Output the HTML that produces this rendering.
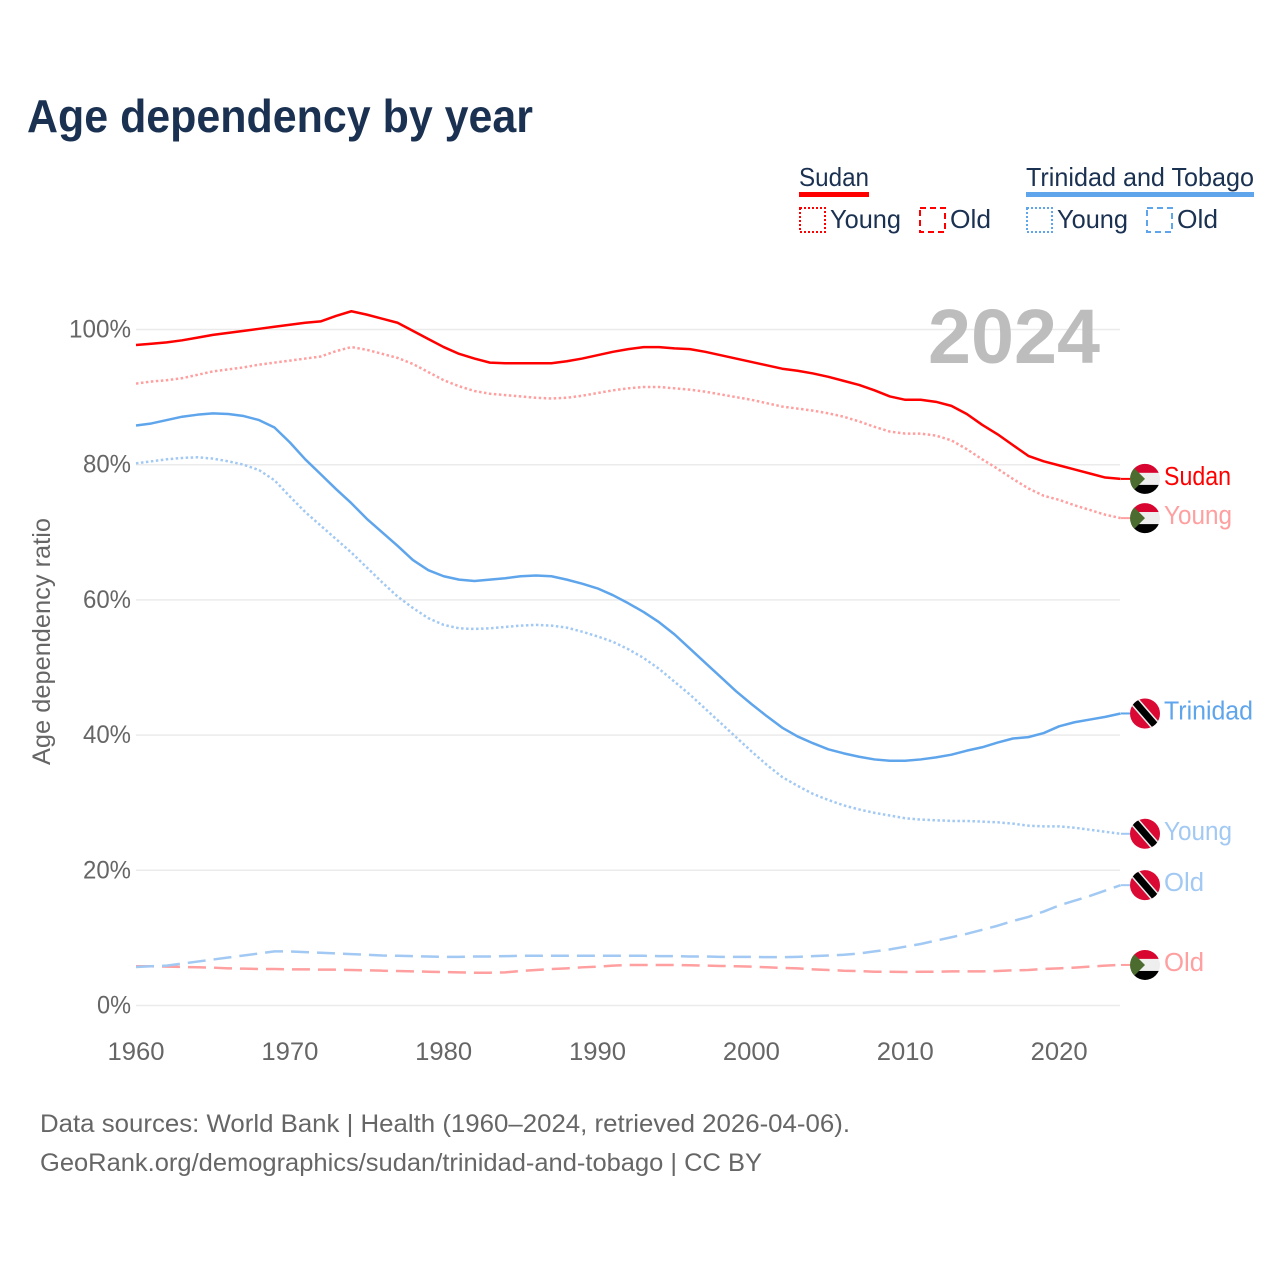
<!DOCTYPE html>
<html lang="en">
<head>
<meta charset="utf-8">
<title>Age dependency by year</title>
<style>
html,body{margin:0;padding:0;background:#fff;}
svg{display:block;font-family:"Liberation Sans",sans-serif;}
.legend-text{font-size:26px;fill:#1a3152;}
.tick{font-size:25px;fill:#666;}
.foot{font-size:25px;fill:#666;}
</style>
</head>
<body>
<svg id="chart" width="1280" height="1280" viewBox="0 0 1280 1280" xmlns="http://www.w3.org/2000/svg">
  <rect width="1280" height="1280" fill="#fff"/>
  <text x="27" y="132" font-size="46.5" font-weight="700" fill="#1a3152" textLength="506" lengthAdjust="spacingAndGlyphs">Age dependency by year</text>

  <g>
    <text class="legend-text" x="799" y="186" textLength="70" lengthAdjust="spacingAndGlyphs">Sudan</text>
    <rect x="799" y="192" width="70" height="5" fill="#ff0000"/>
    <rect x="800" y="208" width="25" height="24" fill="none" stroke="#ff0000" stroke-width="2" stroke-dasharray="2 2"/>
    <text class="legend-text" x="830" y="228" textLength="71" lengthAdjust="spacingAndGlyphs">Young</text>
    <rect x="920" y="208" width="25" height="24" fill="none" stroke="#ff0000" stroke-width="2" stroke-dasharray="6 4"/>
    <text class="legend-text" x="950" y="228" textLength="41" lengthAdjust="spacingAndGlyphs">Old</text>

    <text class="legend-text" x="1026" y="186" textLength="228" lengthAdjust="spacingAndGlyphs">Trinidad and Tobago</text>
    <rect x="1026" y="192" width="228" height="5" fill="#5fa5ec"/>
    <rect x="1027" y="208" width="25" height="24" fill="none" stroke="#5fa5ec" stroke-width="2" stroke-dasharray="2 2"/>
    <text class="legend-text" x="1057" y="228" textLength="71" lengthAdjust="spacingAndGlyphs">Young</text>
    <rect x="1147" y="208" width="25" height="24" fill="none" stroke="#5fa5ec" stroke-width="2" stroke-dasharray="6 4"/>
    <text class="legend-text" x="1177" y="228" textLength="41" lengthAdjust="spacingAndGlyphs">Old</text>
  </g>

  <text transform="translate(50 641.5) rotate(-90)" text-anchor="middle" font-size="25" fill="#666" textLength="247" lengthAdjust="spacingAndGlyphs">Age dependency ratio</text>

  <g id="grid"></g>
  <g id="y-ticks"></g>
  <g id="x-ticks"></g>

  <text x="928" y="363" font-size="77" font-weight="700" fill="#bdbdbd" textLength="172" lengthAdjust="spacingAndGlyphs">2024</text>

  <g id="series"></g>
  <g id="end-labels"></g>

  <g>
    <text class="foot" x="40" y="1132" textLength="810" lengthAdjust="spacingAndGlyphs">Data sources: World Bank | Health (1960–2024, retrieved 2026-04-06).</text>
    <text class="foot" x="40" y="1171" textLength="722" lengthAdjust="spacingAndGlyphs">GeoRank.org/demographics/sudan/trinidad-and-tobago | CC BY</text>
  </g>
</svg>

<script>
const years = [1960,1961,1962,1963,1964,1965,1966,1967,1968,1969,1970,1971,1972,1973,1974,1975,1976,1977,1978,1979,1980,1981,1982,1983,1984,1985,1986,1987,1988,1989,1990,1991,1992,1993,1994,1995,1996,1997,1998,1999,2000,2001,2002,2003,2004,2005,2006,2007,2008,2009,2010,2011,2012,2013,2014,2015,2016,2017,2018,2019,2020,2021,2022,2023,2024];
const xTickLabels = [1960,1970,1980,1990,2000,2010,2020];
const yTickLabels = [0,20,40,60,80,100];

const sudanTotal = [97.7,97.9,98.1,98.4,98.8,99.2,99.5,99.8,100.1,100.4,100.7,101.0,101.2,102.0,102.7,102.2,101.6,101.0,99.8,98.6,97.4,96.4,95.7,95.1,95.0,95.0,95.0,95.0,95.3,95.7,96.2,96.7,97.1,97.4,97.4,97.2,97.1,96.7,96.2,95.7,95.2,94.7,94.2,93.9,93.5,93.0,92.4,91.8,91.0,90.1,89.6,89.6,89.3,88.7,87.5,85.9,84.5,82.9,81.3,80.5,79.9,79.3,78.7,78.1,77.9];
const sudanYoung = [92.0,92.3,92.5,92.8,93.3,93.8,94.1,94.4,94.8,95.1,95.4,95.7,96.0,96.8,97.4,97.0,96.4,95.8,94.9,93.7,92.5,91.6,90.9,90.5,90.3,90.1,89.9,89.8,89.9,90.2,90.6,91.0,91.3,91.5,91.5,91.3,91.1,90.8,90.4,90.0,89.6,89.1,88.6,88.3,88.0,87.6,87.1,86.4,85.6,84.9,84.6,84.6,84.3,83.6,82.3,80.8,79.4,77.9,76.5,75.4,74.8,74.0,73.3,72.6,72.1];
const sudanOld = [5.8,5.8,5.75,5.7,5.65,5.6,5.5,5.45,5.4,5.4,5.35,5.35,5.3,5.3,5.25,5.2,5.15,5.1,5.05,5.0,4.95,4.9,4.85,4.85,4.9,5.1,5.25,5.4,5.5,5.65,5.75,5.9,6.0,6.0,6.0,6.0,5.95,5.9,5.85,5.8,5.75,5.65,5.55,5.5,5.35,5.25,5.15,5.1,5.0,5.0,4.95,5.0,5.0,5.05,5.05,5.05,5.1,5.2,5.25,5.4,5.5,5.6,5.75,5.9,6.0];
const trinidadTotal = [85.8,86.1,86.6,87.1,87.4,87.6,87.5,87.2,86.6,85.5,83.3,80.8,78.6,76.4,74.3,72.0,70.0,68.0,65.9,64.4,63.5,63.0,62.8,63.0,63.2,63.5,63.6,63.5,63.0,62.4,61.7,60.7,59.5,58.2,56.7,54.9,52.8,50.7,48.6,46.5,44.6,42.8,41.1,39.8,38.8,37.9,37.3,36.8,36.4,36.2,36.2,36.4,36.7,37.1,37.7,38.2,38.9,39.5,39.7,40.3,41.3,41.9,42.3,42.7,43.2];
const trinidadYoung = [80.2,80.5,80.8,81.0,81.1,80.9,80.5,80.0,79.2,77.7,75.3,73.0,71.0,69.0,67.0,64.8,62.6,60.5,58.8,57.3,56.3,55.8,55.7,55.8,56.0,56.2,56.3,56.2,55.9,55.3,54.6,53.8,52.7,51.4,49.8,47.9,46.0,43.9,41.8,39.7,37.6,35.6,33.8,32.5,31.3,30.4,29.6,29.0,28.5,28.1,27.7,27.5,27.4,27.3,27.3,27.2,27.1,26.9,26.6,26.5,26.5,26.3,26.0,25.7,25.4];
const trinidadOld = [5.7,5.8,5.9,6.2,6.5,6.8,7.1,7.4,7.7,8.0,8.0,7.9,7.8,7.7,7.6,7.5,7.4,7.35,7.3,7.25,7.2,7.2,7.25,7.25,7.3,7.35,7.35,7.35,7.35,7.35,7.35,7.35,7.35,7.35,7.3,7.3,7.25,7.25,7.2,7.2,7.2,7.15,7.15,7.2,7.3,7.4,7.5,7.7,8.0,8.3,8.7,9.1,9.6,10.1,10.6,11.2,11.8,12.5,13.1,13.9,14.8,15.5,16.2,17.0,17.8];

const NS = 'http://www.w3.org/2000/svg';
const xAxis = year => 136 + (year - 1960) * 15.385;
const yAxis = pct => 1005.5 - pct * 6.76;
const FLAG_X = 1145;
const FLAG_R = 15;
const PLOT_RIGHT = 1120;

function make(tag, attrs, parent) {
  const el = document.createElementNS(NS, tag);
  Object.keys(attrs).forEach(k => el.setAttribute(k, attrs[k]));
  parent.appendChild(el);
  return el;
}

const gridGroup = document.getElementById('grid');
const yTickGroup = document.getElementById('y-ticks');
const xTickGroup = document.getElementById('x-ticks');
const seriesGroup = document.getElementById('series');
const labelGroup = document.getElementById('end-labels');

yTickLabels.forEach(v => {
  const line = make('line', {x1: 136, x2: PLOT_RIGHT, y1: yAxis(v), y2: yAxis(v), stroke: '#ebebeb', 'stroke-width': 1.5}, gridGroup);
  
  
  const t = make('text', {x: 131, y: yAxis(v) + 8, 'text-anchor': 'end', class: 'tick', textLength: v === 100 ? 62 : (v === 0 ? 34 : 48), lengthAdjust: 'spacingAndGlyphs'}, yTickGroup);
  t.textContent = v + '%';
  
  
});

xTickLabels.forEach(v => {
  const t = make('text', {x: xAxis(v), y: 1060, 'text-anchor': 'middle', class: 'tick', textLength: 57, lengthAdjust: 'spacingAndGlyphs'}, xTickGroup);
  t.textContent = v;
  
  
});

const seriesDefs = [
  {id: 'sudan-old', values: sudanOld, color: '#ff9f9f', dash: '18 8', flag: 'sudan', label: 'Old', w: 40},
  {id: 'trinidad-old', values: trinidadOld, color: '#a2c9f3', dash: '18 8', flag: 'trinidad', label: 'Old', w: 40},
  {id: 'trinidad-young', values: trinidadYoung, color: '#a2c9f3', dash: '2.5 2.5', flag: 'trinidad', label: 'Young', w: 68},
  {id: 'trinidad-total', values: trinidadTotal, color: '#5fa5ec', dash: '', flag: 'trinidad', label: 'Trinidad', w: 89},
  {id: 'sudan-young', values: sudanYoung, color: '#ff9f9f', dash: '2.5 2.5', flag: 'sudan', label: 'Young', w: 68},
  {id: 'sudan-total', values: sudanTotal, color: '#ff0000', dash: '', flag: 'sudan', label: 'Sudan', w: 67}
];

function drawFlag(kind, cy, idx) {
  const g = make('g', {transform: 'translate(' + FLAG_X + ' ' + cy + ')'}, labelGroup);
  
  
  const clip = make('clipPath', {id: 'flag-clip-' + idx}, g);
  make('circle', {r: FLAG_R}, clip);
  const inner = make('g', {'clip-path': 'url(#flag-clip-' + idx + ')'}, g);
  if (kind === 'sudan') {
    make('rect', {x: -16, y: -16, width: 32, height: 10, fill: '#d7052f'}, inner);
    make('rect', {x: -16, y: -6, width: 32, height: 12, fill: '#eeeeee'}, inner);
    make('rect', {x: -16, y: 6, width: 32, height: 10, fill: '#000000'}, inner);
    make('polygon', {points: '-16,-16 0,0 -16,16', fill: '#4b6b2f'}, inner);
  } else {
    make('rect', {x: -16, y: -16, width: 32, height: 32, fill: '#da0a34'}, inner);
    make('line', {x1: -13, y1: -15, x2: 13, y2: 15, stroke: '#eeeeee', 'stroke-width': 10}, inner);
    make('line', {x1: -13, y1: -15, x2: 13, y2: 15, stroke: '#000000', 'stroke-width': 7}, inner);
  }
}

seriesDefs.forEach((s, idx) => {
  const d = s.values.map((v, i) => (i ? 'L' : 'M') + xAxis(years[i]).toFixed(2) + ' ' + yAxis(v).toFixed(2)).join(' ');
  const path = make('path', {d: d, fill: 'none', stroke: s.color, 'stroke-width': 2.5, 'stroke-linejoin': 'round'}, seriesGroup);
  if (s.dash) path.setAttribute('stroke-dasharray', s.dash);
  
  

  const lastY = yAxis(s.values[s.values.length - 1]);
  const conn = make('line', {x1: 1121, x2: 1130, y1: lastY, y2: lastY, stroke: s.color, 'stroke-width': 2}, seriesGroup);
  
  

  drawFlag(s.flag, lastY, idx);

  const label = make('text', {x: 1164, y: lastY + 6, 'font-size': 25.5, fill: s.color, textLength: s.w, lengthAdjust: 'spacingAndGlyphs'}, labelGroup);
  label.textContent = s.label;
  
  
});
</script>
</body>
</html>
